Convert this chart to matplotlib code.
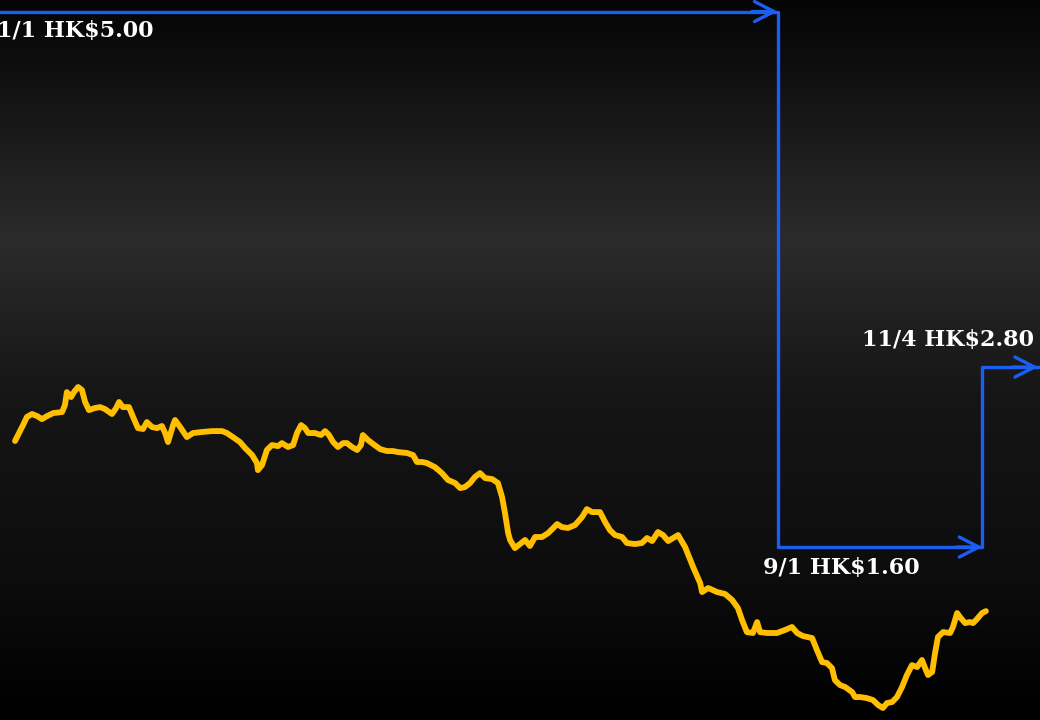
import numpy as np
import matplotlib.pyplot as plt

# share price, days counted from 1/1
days = [4.7, 5.3, 7.2, 8.4, 10.0, 11.6, 13.1, 14.7, 16.6, 19.4, 20.3, 20.9, 22.2, 23.1, 24.4,
        25.6, 26.6, 27.8, 29.7, 31.3, 32.8, 35.0, 36.3, 37.2, 38.4, 40.3, 41.6, 43.1, 44.7,
        45.9, 47.5, 49.1, 50.6, 51.6, 52.5, 54.1, 54.7, 56.3, 58.4, 60.3, 63.1, 66.3, 69.4,
        70.9, 72.8, 75.0, 76.6, 78.8, 80.3, 80.6, 81.9, 83.4, 85.0, 86.9, 88.1, 90.0, 91.6,
        92.8, 94.1, 95.3, 96.3, 98.4, 100.3, 101.6, 102.8, 104.1, 105.6, 107.2, 108.4, 110.0,
        111.6, 112.8, 113.4, 115.0, 116.6, 118.8, 120.9, 122.8, 124.4, 127.2, 129.1, 130.3,
        131.9, 133.4, 135.9, 138.1, 140.0, 142.2, 143.8, 145.3, 146.9, 148.4, 150.0, 151.6,
        153.8, 155.6, 156.9, 157.8, 158.8, 159.4, 160.9, 162.5, 164.1, 165.6, 167.2, 169.4,
        171.3, 174.1, 175.6, 177.5, 179.7, 181.9, 183.4, 185.0, 187.5, 189.1, 190.6, 192.2,
        194.4, 195.9, 198.4, 200.6, 202.2, 203.8, 205.6, 207.2, 208.8, 210.9, 211.9, 214.1,
        216.6, 218.8, 219.4, 221.3, 224.1, 226.6, 228.8, 230.6, 231.9, 233.4, 235.3, 236.6,
        237.5, 239.7, 242.8, 245.3, 247.5, 249.1, 250.9, 253.8, 255.3, 256.9, 258.4, 260.0,
        260.9, 262.5, 264.1, 266.3, 267.2, 268.8, 270.9, 272.8, 274.4, 275.9, 277.2, 278.8,
        280.3, 281.9, 283.4, 285.0, 286.6, 288.1, 289.1, 290.0, 291.3, 292.2, 293.1, 294.7,
        296.9, 297.8, 299.1, 300.0, 301.6, 303.1, 304.1, 305.3, 306.9, 308.1]
price = [2.307, 2.333, 2.413, 2.467, 2.487, 2.473, 2.453, 2.473, 2.493, 2.500, 2.547, 2.633,
         2.600, 2.633, 2.667, 2.647, 2.567, 2.513, 2.527, 2.533, 2.520, 2.487, 2.527, 2.567,
         2.533, 2.533, 2.467, 2.393, 2.387, 2.433, 2.400, 2.393, 2.407, 2.360, 2.300, 2.413,
         2.447, 2.400, 2.333, 2.360, 2.367, 2.373, 2.373, 2.360, 2.333, 2.300, 2.260, 2.213,
         2.160, 2.113, 2.147, 2.247, 2.280, 2.273, 2.293, 2.267, 2.280, 2.360, 2.413, 2.393,
         2.360, 2.360, 2.347, 2.373, 2.347, 2.300, 2.267, 2.293, 2.293, 2.267, 2.247, 2.280,
         2.347, 2.313, 2.287, 2.253, 2.240, 2.240, 2.233, 2.227, 2.213, 2.167, 2.167, 2.160,
         2.133, 2.093, 2.047, 2.027, 1.993, 2.000, 2.027, 2.067, 2.093, 2.060, 2.053, 2.027,
         1.933, 1.827, 1.693, 1.647, 1.593, 1.620, 1.647, 1.607, 1.667, 1.667, 1.693, 1.753,
         1.733, 1.727, 1.747, 1.800, 1.853, 1.833, 1.833, 1.767, 1.713, 1.680, 1.667, 1.627,
         1.620, 1.627, 1.660, 1.640, 1.700, 1.680, 1.640, 1.667, 1.680, 1.600, 1.467, 1.360,
         1.300, 1.327, 1.300, 1.287, 1.247, 1.193, 1.113, 1.033, 1.027, 1.100, 1.033, 1.027,
         1.027, 1.047, 1.067, 1.027, 1.007, 0.993, 0.913, 0.833, 0.827, 0.793, 0.713, 0.680,
         0.667, 0.633, 0.600, 0.600, 0.593, 0.580, 0.547, 0.527, 0.560, 0.567, 0.600, 0.667,
         0.747, 0.813, 0.800, 0.847, 0.793, 0.747, 0.767, 0.893, 1.000, 1.033, 1.027, 1.067,
         1.160, 1.133, 1.093, 1.100, 1.093, 1.120, 1.160, 1.173]

# offer levels (as drawn) and their labels
step_days = [0, 243, 307, 325]
step_levels = [5.17, 1.60, 2.80]
step_labels = ['1/1 HK$5.00', '9/1 HK$1.60', '11/4 HK$2.80']

fig = plt.figure(figsize=(10.4, 7.2), dpi=100)
ax = fig.add_axes([0, 0, 1, 1])
ax.set_xlim(0, 325)
ax.set_ylim(0.447, 5.247)
ax.axis('off')

# dark background, lighter band a third of the way down (top row first)
stops = np.array([0.0, 0.1, 0.33, 0.55, 0.8, 1.0])
shade = np.array([0.02, 0.06, 0.17, 0.085, 0.05, 0.0])
t = np.linspace(0, 1, 400)
g = np.interp(t, stops, shade)[:, None]
bg = np.dstack([g, g, g + 0.005])
ax.imshow(bg, extent=[0, 1, 0, 1], transform=ax.transAxes, aspect='auto',
          zorder=0, interpolation='bilinear')

ax.plot(days, price, color='#ffbf00', lw=4.2, solid_capstyle='round',
        solid_joinstyle='round', zorder=3)

blue = '#1a5ef2'
xs, ys = [], []
for i, lvl in enumerate(step_levels):
    xs += [step_days[i], step_days[i + 1]]
    ys += [lvl, lvl]
ax.plot(xs, ys, color=blue, lw=2.4, zorder=2)
for i, lvl in enumerate(step_levels):
    tip = step_days[i + 1] - (0.6 if i == 2 else 0)
    ax.annotate('', xy=(tip, lvl), xytext=(tip - 8, lvl),
                arrowprops=dict(arrowstyle='->,head_length=0.7,head_width=0.36',
                                color=blue, lw=2.4, mutation_scale=20,
                                shrinkA=0, shrinkB=0), zorder=2)

font = dict(color='white', fontsize=16, fontweight='bold', family='DejaVu Serif',
            textcoords='offset pixels', va='center', zorder=4)
ax.annotate(step_labels[0], (step_days[0], step_levels[0]), xytext=(-3, -19),
            ha='left', annotation_clip=False, **font)
ax.annotate(step_labels[1], (step_days[1], step_levels[1]), xytext=(-15, -21),
            ha='left', **font)
ax.annotate(step_labels[2], (step_days[2], step_levels[2]), xytext=(52, 27),
            ha='right', **font)

fig.savefig('out.png', dpi=100)
